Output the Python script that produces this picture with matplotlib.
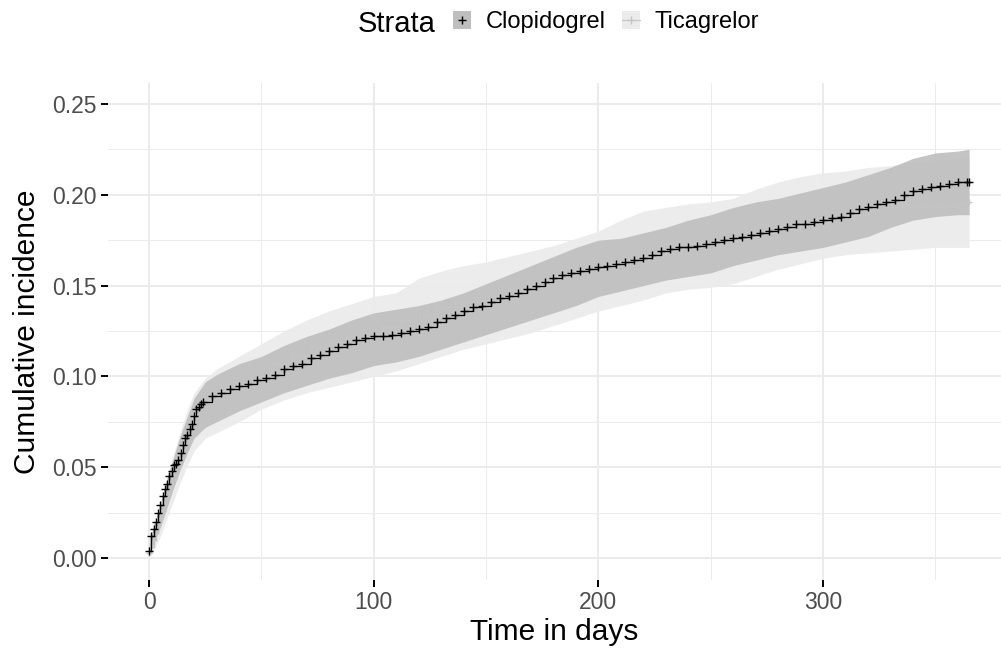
"""Cumulative incidence by strata (Clopidogrel vs Ticagrelor), ggplot-like look."""
import matplotlib

matplotlib.use("Agg")
import matplotlib.pyplot as plt
from matplotlib.lines import Line2D
from matplotlib.patches import Patch

plt.rcParams["font.family"] = ["Liberation Sans", "DejaVu Sans"]

GRID = "#EBEBEB"
TICK_TXT = "#4D4D4D"
CLO_FILL = "#BEBEBE"
TIC_FILL = "#EBEBEB"
CLO_LINE = "black"
TIC_LINE = "#C4C4C4"

# --- data ----------------------------------------------------------------
strata = ["Clopidogrel", "Ticagrelor"]

clo_time = [0, 1, 2, 3, 4, 5, 6, 7, 8, 9, 10, 11, 12, 13, 14, 15, 16, 17, 18, 19,
            20, 21, 22, 23, 24, 28, 32, 36, 40, 44, 48, 52, 56, 60, 64, 68, 72, 76,
            80, 84, 88, 92, 96, 100, 104, 108, 112, 116, 120, 124, 128, 132, 136,
            140, 144, 148, 152, 156, 160, 164, 168, 172, 176, 180, 184, 188, 192,
            196, 200, 204, 208, 212, 216, 220, 224, 228, 232, 236, 240, 244, 248,
            252, 256, 260, 264, 268, 272, 276, 280, 284, 288, 292, 296, 300, 304,
            308, 312, 316, 320, 324, 328, 332, 336, 340, 344, 348, 352, 356, 360,
            364, 365]
clo_est = [0.004, 0.012, 0.016, 0.020, 0.025, 0.029, 0.034, 0.038, 0.041, 0.045,
           0.048, 0.051, 0.052, 0.054, 0.058, 0.062, 0.066, 0.068, 0.071, 0.074,
           0.078, 0.082, 0.083, 0.085, 0.086, 0.089, 0.091, 0.093, 0.095, 0.096,
           0.098, 0.099, 0.101, 0.104, 0.106, 0.107, 0.110, 0.112, 0.114, 0.116,
           0.118, 0.120, 0.121, 0.122, 0.122, 0.123, 0.124, 0.125, 0.126, 0.127,
           0.130, 0.132, 0.134, 0.136, 0.138, 0.139, 0.141, 0.143, 0.144, 0.146,
           0.148, 0.150, 0.152, 0.154, 0.156, 0.157, 0.158, 0.159, 0.160, 0.161,
           0.162, 0.163, 0.164, 0.165, 0.167, 0.169, 0.170, 0.171, 0.171, 0.172,
           0.173, 0.174, 0.175, 0.176, 0.177, 0.178, 0.179, 0.180, 0.181, 0.182,
           0.184, 0.184, 0.185, 0.186, 0.187, 0.188, 0.190, 0.192, 0.193, 0.195,
           0.196, 0.197, 0.200, 0.202, 0.203, 0.204, 0.205, 0.206, 0.207, 0.207,
           0.207]

tic_time = [0, 1, 2, 3, 4, 5, 6, 7, 8, 9, 10, 11, 12, 13, 14, 15, 16, 17, 18, 19,
            20, 22, 24, 32, 40, 48, 56, 64, 72, 80, 88, 96, 104, 112, 120, 128, 136,
            144, 152, 160, 168, 176, 184, 192, 200, 208, 216, 224, 232, 240, 248,
            256, 264, 272, 280, 288, 296, 304, 312, 320, 328, 336, 344, 352, 360,
            365]
tic_est = [0.003, 0.006, 0.010, 0.014, 0.018, 0.022, 0.026, 0.030, 0.034, 0.038,
           0.042, 0.046, 0.050, 0.054, 0.058, 0.062, 0.066, 0.069, 0.073, 0.076,
           0.080, 0.084, 0.086, 0.092, 0.097, 0.100, 0.107, 0.112, 0.116, 0.119,
           0.121, 0.124, 0.127, 0.131, 0.134, 0.138, 0.141, 0.142, 0.144, 0.147,
           0.150, 0.153, 0.156, 0.158, 0.160, 0.161, 0.164, 0.167, 0.169, 0.171,
           0.173, 0.175, 0.177, 0.179, 0.181, 0.183, 0.185, 0.187, 0.189, 0.191,
           0.193, 0.194, 0.194, 0.194, 0.195, 0.196]

band_time = [0, 2, 5, 8, 11, 14, 17, 20, 25, 30, 40, 50, 60, 70, 80, 90, 100, 110,
             120, 130, 140, 150, 160, 170, 180, 190, 200, 210, 220, 230, 240, 250,
             260, 270, 280, 290, 300, 310, 320, 330, 340, 350, 360, 365]
clo_lower = [0.002, 0.008, 0.017, 0.028, 0.039, 0.049, 0.058, 0.066, 0.072, 0.075,
             0.081, 0.086, 0.091, 0.095, 0.099, 0.102, 0.106, 0.108, 0.111, 0.115,
             0.119, 0.123, 0.127, 0.131, 0.135, 0.139, 0.144, 0.147, 0.150, 0.153,
             0.155, 0.157, 0.161, 0.164, 0.167, 0.169, 0.171, 0.174, 0.177, 0.182,
             0.186, 0.188, 0.189, 0.189]
clo_upper = [0.008, 0.018, 0.030, 0.044, 0.056, 0.068, 0.078, 0.088, 0.097, 0.101,
             0.107, 0.111, 0.117, 0.122, 0.126, 0.131, 0.135, 0.137, 0.139, 0.142,
             0.146, 0.151, 0.156, 0.161, 0.166, 0.171, 0.175, 0.176, 0.179, 0.182,
             0.186, 0.189, 0.193, 0.196, 0.198, 0.201, 0.204, 0.207, 0.211, 0.215,
             0.220, 0.223, 0.224, 0.225]
tic_lower = [0.000, 0.004, 0.012, 0.022, 0.032, 0.042, 0.051, 0.059, 0.066, 0.069,
             0.075, 0.082, 0.087, 0.091, 0.094, 0.097, 0.100, 0.103, 0.107, 0.111,
             0.115, 0.118, 0.121, 0.124, 0.128, 0.132, 0.136, 0.139, 0.142, 0.146,
             0.148, 0.149, 0.151, 0.155, 0.159, 0.162, 0.165, 0.167, 0.168, 0.169,
             0.170, 0.171, 0.171, 0.171]
tic_upper = [0.007, 0.018, 0.030, 0.045, 0.058, 0.070, 0.082, 0.091, 0.099, 0.104,
             0.111, 0.118, 0.125, 0.131, 0.136, 0.140, 0.144, 0.146, 0.154, 0.158,
             0.161, 0.163, 0.166, 0.169, 0.172, 0.176, 0.180, 0.186, 0.191, 0.193,
             0.195, 0.196, 0.198, 0.203, 0.207, 0.210, 0.212, 0.213, 0.215, 0.216,
             0.218, 0.219, 0.220, 0.221]

x_ticks = [0, 100, 200, 300]
x_minor = [50, 150, 250, 350]
y_ticks = [0.00, 0.05, 0.10, 0.15, 0.20, 0.25]
y_minor = [0.025, 0.075, 0.125, 0.175, 0.225]
y_tick_labels = ["0.00", "0.05", "0.10", "0.15", "0.20", "0.25"]


def main():
    fig = plt.figure(figsize=(10.01, 6.57), dpi=100)
    ax = fig.add_axes([0.108, 0.117, 0.892, 0.757])
    ax.set_xlim(-18.25, 379.2)
    ax.set_ylim(-0.0121, 0.2616)

    # ggplot-style grid
    for x in x_ticks:
        ax.axvline(x, color=GRID, lw=1.4, zorder=0)
    for x in x_minor:
        ax.axvline(x, color=GRID, lw=0.7, zorder=0)
    for y in y_ticks:
        ax.axhline(y, color=GRID, lw=1.4, zorder=0)
    for y in y_minor:
        ax.axhline(y, color=GRID, lw=0.7, zorder=0)

    ax.fill_between(band_time, tic_lower, tic_upper,
                    color=TIC_FILL, alpha=0.95, lw=0, zorder=1)
    ax.fill_between(band_time, clo_lower, clo_upper,
                    color=CLO_FILL, alpha=0.9, lw=0, zorder=2)

    ax.step(tic_time, tic_est, where="post", color=TIC_LINE, lw=0.9, zorder=3)
    ax.plot(tic_time, tic_est, "+", color=TIC_LINE, ms=5, mew=0.9, zorder=3)
    ax.step(clo_time, clo_est, where="post", color=CLO_LINE, lw=0.9, zorder=4)
    ax.plot(clo_time, clo_est, "+", color=CLO_LINE, ms=6, mew=1.0, zorder=4)

    for s in ax.spines.values():
        s.set_visible(False)
    ax.set_xticks(x_ticks)
    ax.set_yticks(y_ticks)
    ax.set_yticklabels(y_tick_labels)
    ax.tick_params(length=5, width=1.4, color="black", labelcolor=TICK_TXT,
                   labelsize=16.5, pad=3)
    ax.set_xlabel("Time in days", fontsize=21.5, labelpad=3)
    ax.set_ylabel("Cumulative incidence", fontsize=21.5, labelpad=8)

    # legend on top, title at left
    fig.text(0.396, 0.963, "Strata", fontsize=21, ha="center", va="center")
    handles = [
        (Patch(facecolor=CLO_FILL, edgecolor="none"),
         Line2D([], [], color=CLO_LINE, marker="+", lw=0, ms=6)),
        (Patch(facecolor=TIC_FILL, edgecolor="none"),
         Line2D([], [], color=TIC_LINE, marker="+", lw=0.8, ms=6)),
    ]
    fig.legend(handles, strata, loc="center", bbox_to_anchor=(0.6055, 0.966),
               ncol=2, frameon=False, fontsize=17, handlelength=0.75,
               handleheight=0.75, handletextpad=0.64, columnspacing=0.68,
               borderpad=0.2)

    fig.savefig("out.png", dpi=100, facecolor="white")
    plt.close(fig)


if __name__ == "__main__":
    main()
